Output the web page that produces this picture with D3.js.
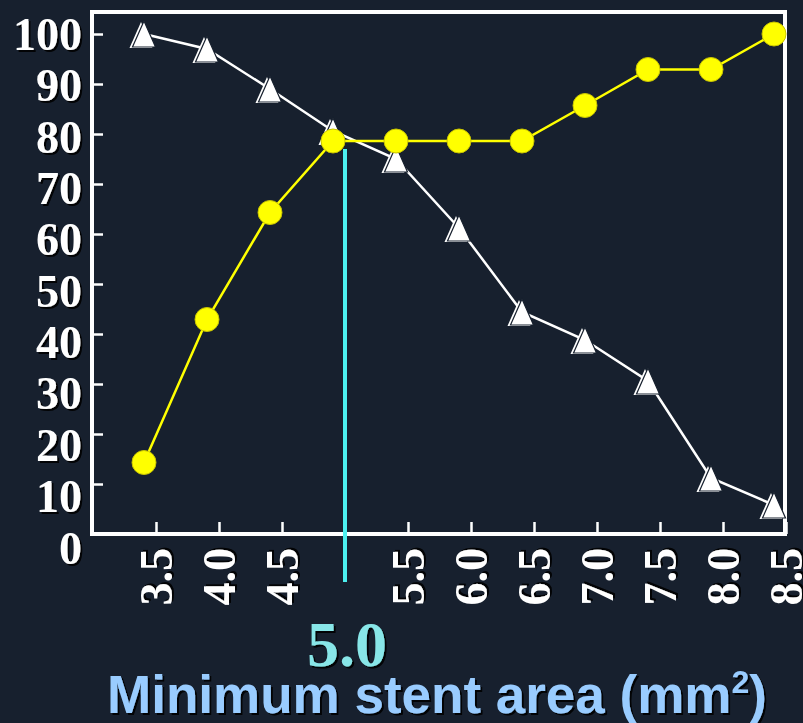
<!DOCTYPE html>
<html>
<head>
<meta charset="utf-8">
<script src="https://cdn.jsdelivr.net/npm/d3@7"></script>
<style>
  html, body { margin: 0; padding: 0; background: #17202e; }
  svg { display: block; }
</style>
</head>
<body>
<svg id="chart" width="803" height="723"></svg>
<script>
// ---- data ----
const areas = [3.5, 4.0, 4.5, 5.0, 5.5, 6.0, 6.5, 7.0, 7.5, 8.0, 8.5];
const specificity = [100, 97, 89, 80.6, 75, 61.2, 44.4, 38.8, 30.6, 11.2, 5.8];      // white triangles
const sensitivity = [14.3, 42.9, 64.3, 78.6, 78.6, 78.6, 78.6, 85.7, 92.9, 92.9, 100]; // yellow circles
const yTicks = [0, 10, 20, 30, 40, 50, 60, 70, 80, 90, 100];
const xTicks = [3.5, 4.0, 4.5, 5.5, 6.0, 6.5, 7.0, 7.5, 8.0, 8.5];
const xTickLabels = ["3.5", "4.0", "4.5", "5.5", "6.0", "6.5", "7.0", "7.5", "8.0", "8.5"];
const cutoff = 5.0;
const cutoffLabel = "5.0";
const cutoffSpan = [77, -9.6];
const xTitle = "Minimum stent area (mm";

// ---- layout ----
const svg = d3.select("#chart");
const W = 803, H = 723;
svg.append("rect").attr("width", W).attr("height", H).attr("fill", "#17202e");

const defs = svg.append("defs");
const f = defs.append("filter").attr("id", "shadow").attr("x", "-20%").attr("y", "-20%").attr("width", "140%").attr("height", "140%");
f.append("feDropShadow").attr("dx", 2).attr("dy", 2).attr("stdDeviation", 0.6).attr("flood-color", "#000").attr("flood-opacity", 0.9);

const xAxisScale = d3.scaleLinear().domain([3.5, 8.5]).range([156, 786]);
const xPoint = d3.scaleLinear().domain([3.5, 8.5]).range([144, 774]);
const y = d3.scaleLinear().domain([0, 100]).range([534, 34]);
const yLabel = d3.scaleLinear().domain([0, 100]).range([548, 34.5]);

// frame
svg.append("rect")
  .attr("x", 92).attr("y", 12).attr("width", 693).attr("height", 522)
  .attr("fill", "none").attr("stroke", "#ffffff").attr("stroke-width", 4);

// y ticks (inside)
const yAx = svg.append("g").attr("transform", "translate(92,0)")
  .call(d3.axisRight(y).tickValues(yTicks).tickSize(11).tickFormat(""));
yAx.select(".domain").remove();
yAx.selectAll("line").attr("stroke", "#fff").attr("stroke-width", 2.5);

// x ticks (inside)
const xAx = svg.append("g").attr("transform", "translate(0,534)")
  .call(d3.axisTop(xAxisScale).tickValues(xTicks).tickSize(12).tickFormat(""));
xAx.select(".domain").remove();
xAx.selectAll("line").attr("stroke", "#fff").attr("stroke-width", 2.5);

// y labels
svg.append("g").selectAll("text").data(yTicks).join("text")
  .attr("x", 82).attr("y", d => yLabel(d) + 15.5)
  .attr("text-anchor", "end")
  .attr("font-family", "'Liberation Serif', 'Times New Roman', serif")
  .attr("font-weight", "bold").attr("font-size", 46)
  .attr("fill", "#fff").attr("filter", "url(#shadow)")
  .text(d => d);

// x labels (rotated)
svg.append("g").selectAll("text").data(xTicks).join("text")
  .attr("transform", (d, i) => `translate(${xAxisScale(d) + 16},548) rotate(-90)`)
  .attr("text-anchor", "end")
  .attr("font-family", "'Liberation Serif', 'Times New Roman', serif")
  .attr("font-weight", "bold").attr("font-size", 46)
  .attr("fill", "#fff").attr("filter", "url(#shadow)")
  .text((d, i) => xTickLabels[i]);

// lines
const lineGen = d3.line().x((d, i) => xPoint(areas[i])).y(d => y(d));
svg.append("path").datum(specificity).attr("d", lineGen)
  .attr("fill", "none").attr("stroke", "#fff").attr("stroke-width", 2.5);
svg.append("path").datum(sensitivity).attr("d", lineGen)
  .attr("fill", "none").attr("stroke", "#ffff00").attr("stroke-width", 2.5);

// triangle markers
const tri = { draw(ctx, size) { const w = 11.5, h = 13; ctx.moveTo(0, -h); ctx.lineTo(w, h); ctx.lineTo(-w, h); ctx.closePath(); } };
const triPath = d3.symbol(tri, 1)();
const tg = svg.append("g");
tg.selectAll("path.sh").data(specificity).join("path").attr("class", "sh")
  .attr("d", triPath)
  .attr("transform", (d, i) => `translate(${xPoint(areas[i]) - 3},${y(d) + 1})`)
  .attr("fill", "#fff");
tg.selectAll("path.mk").data(specificity).join("path").attr("class", "mk")
  .attr("d", triPath)
  .attr("transform", (d, i) => `translate(${xPoint(areas[i])},${y(d)})`)
  .attr("fill", "#fff").attr("stroke", "#17202e").attr("stroke-width", 1.2);

// circle markers
svg.append("g").selectAll("circle").data(sensitivity).join("circle")
  .attr("cx", (d, i) => xPoint(areas[i])).attr("cy", d => y(d)).attr("r", 12)
  .attr("fill", "#ffff00").attr("stroke", "#c9c400").attr("stroke-width", 1);

// cutoff line
svg.append("line")
  .attr("x1", xAxisScale(cutoff)).attr("x2", xAxisScale(cutoff))
  .attr("y1", y(cutoffSpan[0])).attr("y2", y(cutoffSpan[1]))
  .attr("stroke", "#4cf0f0").attr("stroke-width", 4);

svg.append("text")
  .attr("x", xAxisScale(cutoff) + 2).attr("y", 666)
  .attr("text-anchor", "middle")
  .attr("font-family", "'Liberation Serif', 'Times New Roman', serif")
  .attr("font-weight", "bold").attr("font-size", 64)
  .attr("fill", "#88e6e8").attr("filter", "url(#shadow)")
  .text(cutoffLabel);

// axis title
const t = svg.append("text")
  .attr("x", 437).attr("y", 713)
  .attr("text-anchor", "middle")
  .attr("font-family", "'Liberation Sans', Arial, sans-serif")
  .attr("font-weight", "bold").attr("font-size", 53)
  .attr("fill", "#99ccff").attr("filter", "url(#shadow)");
t.append("tspan").text(xTitle);
t.append("tspan").attr("font-size", 32).attr("dy", -20).text("2");
t.append("tspan").attr("dy", 20).text(")");
</script>
</body>
</html>
